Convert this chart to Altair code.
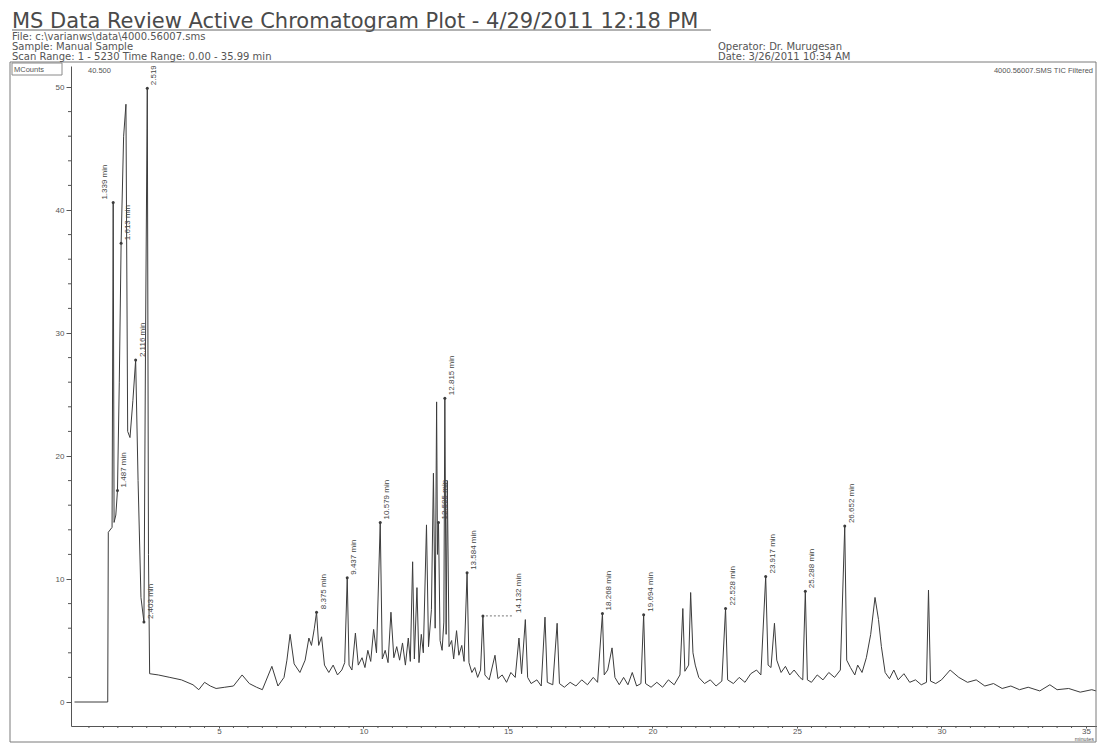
import altair as alt
import pandas as pd

# ---------------- data ----------------
time_min = [
    0.00, 1.15, 1.17, 1.30, 1.339, 1.37, 1.43, 1.487, 1.55, 1.613, 1.70, 1.78,
    1.84, 1.92, 2.02, 2.116, 2.20, 2.30, 2.403, 2.46, 2.519, 2.56, 2.60, 2.90,
    3.30, 3.70, 4.10, 4.30, 4.50, 4.70, 4.90, 5.20, 5.50, 5.80, 6.05, 6.30,
    6.50, 6.83, 7.04, 7.25, 7.35, 7.46, 7.60, 7.80, 7.98, 8.11, 8.20, 8.30,
    8.375, 8.45, 8.55, 8.65, 8.80, 8.95, 9.10, 9.25, 9.35, 9.437, 9.50, 9.60,
    9.72, 9.82, 9.95, 10.05, 10.15, 10.25, 10.35, 10.45, 10.579, 10.65, 10.75, 10.85,
    10.95, 11.05, 11.15, 11.25, 11.35, 11.45, 11.55, 11.62, 11.70, 11.76, 11.85, 11.92,
    12.00, 12.07, 12.18, 12.25, 12.35, 12.42, 12.48, 12.53, 12.56, 12.595, 12.65, 12.72,
    12.78, 12.815, 12.86, 12.90, 12.96, 13.05, 13.12, 13.22, 13.30, 13.40, 13.48, 13.584,
    13.65, 13.75, 13.85, 13.95, 14.05, 14.132, 14.20, 14.35, 14.55, 14.65, 14.80, 14.95,
    15.10, 15.25, 15.38, 15.47, 15.60, 15.68, 15.80, 16.00, 16.15, 16.28, 16.36, 16.55,
    16.70, 16.78, 16.95, 17.15, 17.35, 17.55, 17.75, 17.95, 18.10, 18.268, 18.33, 18.45,
    18.60, 18.70, 18.85, 19.00, 19.15, 19.30, 19.45, 19.60, 19.694, 19.76, 19.95, 20.15,
    20.35, 20.55, 20.75, 20.95, 21.05, 21.12, 21.25, 21.32, 21.40, 21.48, 21.60, 21.80,
    22.00, 22.20, 22.40, 22.528, 22.60, 22.80, 23.00, 23.20, 23.40, 23.60, 23.75, 23.917,
    24.00, 24.10, 24.22, 24.30, 24.45, 24.60, 24.75, 24.90, 25.10, 25.20, 25.288, 25.36,
    25.50, 25.70, 25.90, 26.10, 26.30, 26.50, 26.652, 26.72, 26.85, 27.00, 27.10, 27.25,
    27.40, 27.55, 27.70, 27.82, 27.92, 28.05, 28.20, 28.35, 28.50, 28.70, 28.90, 29.10,
    29.30, 29.48, 29.55, 29.62, 29.80, 30.00, 30.30, 30.60, 30.90, 31.20, 31.50, 31.80,
    32.10, 32.40, 32.70, 33.00, 33.40, 33.75, 34.00, 34.40, 34.80, 35.20, 35.35,
]
mcounts = [
    0.0, 0.0, 13.8, 14.2, 40.6, 14.6, 15.2, 17.2, 26.0, 37.3, 46.0, 48.6,
    22.0, 21.5, 24.5, 27.8, 18.0, 8.5, 6.5, 30.0, 49.9, 12.0, 2.3, 2.2,
    2.0, 1.8, 1.4, 1.0, 1.6, 1.3, 1.1, 1.2, 1.3, 2.2, 1.5, 1.2,
    1.0, 2.9, 1.3, 2.0, 3.4, 5.5, 3.1, 2.4, 3.4, 5.2, 4.6, 6.0,
    7.3, 4.6, 5.3, 3.0, 2.4, 3.0, 2.2, 2.6, 3.2, 10.1, 3.0, 2.6,
    5.6, 3.0, 3.6, 2.8, 4.2, 3.3, 5.9, 4.0, 14.6, 3.5, 4.2, 3.2,
    7.3, 3.6, 4.5, 3.4, 4.8, 3.0, 5.2, 3.3, 11.4, 3.5, 9.3, 3.2,
    5.5, 4.0, 14.4, 4.5, 7.5, 18.6, 6.0, 24.4, 12.0, 14.6, 5.0, 4.2,
    6.5, 24.7, 5.5, 18.0, 4.5, 5.0, 3.5, 5.8, 3.8, 4.6, 3.3, 10.5,
    3.2, 2.4, 2.8, 2.0, 2.6, 7.0, 2.2, 1.8, 3.8, 1.9, 2.2, 1.6,
    2.4, 2.0, 5.2, 2.3, 6.7, 2.0, 1.5, 1.8, 1.3, 6.9, 1.6, 1.4,
    6.4, 1.5, 1.2, 1.6, 1.3, 1.8, 1.4, 2.0, 1.6, 7.2, 2.2, 2.6,
    4.4, 2.0, 1.4, 2.0, 1.4, 2.4, 1.3, 1.5, 7.1, 1.5, 1.2, 1.6,
    1.2, 1.8, 1.4, 2.2, 7.6, 2.5, 3.0, 8.9, 4.0, 3.0, 2.0, 1.5,
    1.8, 1.3, 1.7, 7.6, 1.8, 1.5, 2.0, 1.6, 2.3, 2.6, 2.2, 10.2,
    3.0, 2.8, 6.4, 3.4, 2.4, 2.9, 2.2, 2.6, 2.0, 1.8, 9.0, 1.8,
    1.6, 2.2, 1.8, 2.4, 2.0, 2.6, 14.3, 3.4, 2.8, 2.2, 3.0, 2.4,
    3.6, 5.5, 8.5, 6.7, 4.5, 2.4, 1.9, 2.6, 1.8, 2.3, 1.6, 1.8,
    1.4, 1.6, 9.1, 1.7, 1.5, 1.8, 2.6, 2.0, 1.6, 1.8, 1.3, 1.5,
    1.1, 1.3, 1.0, 1.2, 0.9, 1.4, 1.0, 1.1, 0.8, 1.0, 0.9,
]

peak_times = [1.339, 1.487, 1.613, 2.116, 2.403, 2.519, 8.375, 9.437, 10.579,
              12.595, 12.815, 13.584, 14.132, 18.268, 19.694, 22.528, 23.917,
              25.288, 26.652]
peak_labels = ["1.339 min", "1.487 min", "1.613 min", "2.116 min", "2.403 min",
               "2.519 min", "8.375 min", "9.437 min", "10.579 min", "12.595 min",
               "12.815 min", "13.584 min", "14.132 min", "18.268 min", "19.694 min",
               "22.528 min", "23.917 min", "25.288 min", "26.652 min"]
peak_side = ["left", "right", "right", "right", "right", "right", "right", "right",
             "right", "right", "right", "right", "far", "right", "right", "right",
             "right", "right", "right"]

y_major = [0, 10, 20, 30, 40, 50]
y_minor = [2, 4, 6, 8, 12, 14, 16, 18, 22, 24, 26, 28, 32, 34, 36, 38, 42, 44, 46, 48]
x_major = [5, 10, 15, 20, 25, 30, 35]
x_minor = [0.5, 1, 1.5, 2, 2.5, 3, 3.5, 4, 4.5, 5.5, 6, 6.5, 7, 7.5, 8, 8.5, 9, 9.5,
           10.5, 11, 11.5, 12, 12.5, 13, 13.5, 14, 14.5, 15.5, 16, 16.5, 17, 17.5,
           18, 18.5, 19, 19.5, 20.5, 21, 21.5, 22, 22.5, 23, 23.5, 24, 24.5, 25.5,
           26, 26.5, 27, 27.5, 28, 28.5, 29, 29.5, 30.5, 31, 31.5, 32, 32.5, 33,
           33.5, 34, 34.5, 35.5]

header_title = "MS Data Review Active Chromatogram Plot - 4/29/2011 12:18 PM"
header_left = ["File: c:\\varianws\\data\\4000.56007.sms",
               "Sample: Manual Sample",
               "Scan Range: 1 - 5230 Time Range: 0.00 - 35.99 min"]
header_right = ["Operator: Dr. Murugesan", "Date: 3/26/2011 10:34 AM"]

# ---------------- tables ----------------
trace = pd.DataFrame({"t": time_min, "I": mcounts})
lookup = dict(zip(time_min, mcounts))
peaks = pd.DataFrame({"t": peak_times, "I": [lookup[t] for t in peak_times],
                      "label": peak_labels, "side": peak_side})

W, H = 1026, 660
ZERO_ROW = 636  # pixel row of 0 MCounts inside the plot area
X0, X1 = -0.121, -0.121 + W / 28.9
Y0, Y1 = -(H - ZERO_ROW) / 12.3, ZERO_ROW / 12.3
xs = alt.Scale(domain=[X0, X1], nice=False, zero=False)
ys = alt.Scale(domain=[Y0, Y1], nice=False, zero=False)

INK = "#3c3c3c"
GREY = "#555555"
one = pd.DataFrame({"k": [0]})

x_axis = alt.Axis(values=x_major, grid=False, tickSize=2, labelPadding=-1,
                  labelFontSize=8, labelFont="Liberation Sans", title=None,
                  labelColor=GREY, domainColor=GREY, tickColor=GREY)
y_axis = alt.Axis(values=y_major, grid=False, tickSize=5, labelPadding=2,
                  labelFontSize=8, labelFont="Liberation Sans", title=None,
                  labelColor=GREY, domainColor=GREY, tickColor=GREY)


def X(field):
    return alt.X(field, scale=xs, axis=x_axis)


def Y(field):
    return alt.Y(field, scale=ys, axis=y_axis)


def text_at(s, x, y, size, align="left", font="DejaVu Sans", color=GREY):
    return alt.Chart(pd.DataFrame({"s": [s]})).mark_text(
        align=align, baseline="alphabetic", fontSize=size, font=font, color=color
    ).encode(x=alt.value(x), y=alt.value(y), text="s:N")


def rule_at(x, x2, y, y2, color="#666666", width=1.0):
    return alt.Chart(one).mark_rule(color=color, strokeWidth=width).encode(
        x=alt.value(x), x2=alt.value(x2), y=alt.value(y), y2=alt.value(y2))


line = alt.Chart(trace).mark_line(color=INK, strokeWidth=1, clip=True).encode(
    x=X("t:Q"), y=Y("I:Q"))

xminor = alt.Chart(pd.DataFrame({"v": x_minor})).mark_rule(color=GREY, strokeWidth=1).encode(
    x=X("v:Q"), y=alt.value(H), y2=alt.value(H + 2))
yminor = alt.Chart(pd.DataFrame({"v": y_minor})).mark_rule(color=GREY, strokeWidth=1).encode(
    y=Y("v:Q"), x=alt.value(-3), x2=alt.value(0))

dots = alt.Chart(peaks).mark_point(filled=True, size=9, color=INK, opacity=1).encode(
    x=X("t:Q"), y=Y("I:Q"))


def label_layer(side, dy, clip=False):
    return alt.Chart(peaks).transform_filter(alt.datum.side == side).mark_text(
        angle=270, align="left", baseline="middle", dx=3, dy=dy, fontSize=8,
        font="Liberation Sans", color="#444444", clip=clip
    ).encode(x=X("t:Q"), y=Y("I:Q"), text="label:N")


lab_right = label_layer("right", 7, clip=True)
lab_left = label_layer("left", -8)
lab_far = label_layer("far", 36)
leader = alt.Chart(peaks).transform_filter(alt.datum.side == "far").mark_rule(
    color="#777777", strokeDash=[2, 2], strokeWidth=1, xOffset=3, x2Offset=30
).encode(x=X("t:Q"), x2="t:Q", y=Y("I:Q"), y2="I:Q")

frame = alt.Chart(one).mark_rect(fillOpacity=0, stroke="#7a7a7a", strokeWidth=1).encode(
    x=alt.value(-61), x2=alt.value(W - 1), y=alt.value(-4), y2=alt.value(676))
mbox = alt.Chart(one).mark_rect(fillOpacity=0, stroke="#8a8a8a", strokeWidth=1).encode(
    x=alt.value(-59), x2=alt.value(-9), y=alt.value(-3), y2=alt.value(9))

header = [
    text_at(header_title, -59, -38, 21, color="#4a4a4a"),
    rule_at(-59, 640, -36, -36, color="#666666"),
    text_at(header_left[0], -59, -26, 10),
    text_at(header_left[1], -59, -16, 10),
    text_at(header_left[2], -59, -6, 10),
    text_at(header_right[0], 647, -16, 10),
    text_at(header_right[1], 647, -6, 10),
    text_at("MCounts", -57, 6, 7.5, font="Liberation Sans"),
    text_at("40.500", 17, 7, 7.5, font="Liberation Sans"),
    text_at("4000.56007.SMS TIC Filtered", W - 4, 7, 7.5, align="right",
            font="Liberation Sans"),
    text_at("minutes", W - 3, 675, 5.5, align="right", font="Liberation Sans"),
]

chart = alt.layer(
    line, xminor, yminor, dots, leader, lab_right, lab_left, lab_far, frame, mbox, *header
).properties(
    width=W, height=H,
    padding={"left": 63, "top": 58, "right": 0, "bottom": 17},
    autosize=alt.AutoSizeParams(type="none"),
    background="white",
).configure_view(strokeWidth=0)

chart.save("out.html", embed_options={"renderer": "svg", "actions": False})
